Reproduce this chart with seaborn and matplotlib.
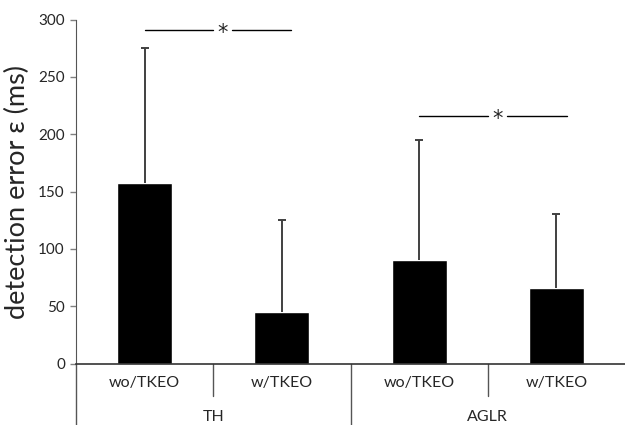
import numpy as np
import pandas as pd
import matplotlib
matplotlib.use("Agg")
import matplotlib.pyplot as plt
import seaborn as sns

# values
methods = ["TH", "TH", "AGLR", "AGLR"]
conditions = ["wo/TKEO", "w/TKEO", "wo/TKEO", "w/TKEO"]
mean_err = [157, 45, 90, 66]
sd_err = [118, 80, 105, 64]
yticks = [0, 50, 100, 150, 200, 250, 300]
sig_th = 291
sig_aglr = 216

df = pd.DataFrame({"method": methods, "condition": conditions,
                   "error": mean_err, "sd": sd_err})
df["key"] = df["method"] + " " + df["condition"]

sns.set_style("white")
plt.rcParams["font.family"] = ["Lato", "DejaVu Sans"]

fig = plt.figure(figsize=(6.25, 4.25), dpi=100)
ax = fig.add_axes([0.1216, 0.1447, 0.8784, 0.8094])

sns.barplot(data=df, x="key", y="error", order=list(df["key"]), color="black",
            saturation=1, width=0.4, errorbar=None, ax=ax)

# one-sided error bars (upwards), hide the lower caps
xpos = np.arange(len(df))
eb = ax.errorbar(xpos, df["error"], yerr=[np.zeros(len(df)), df["sd"]], fmt="none",
                 ecolor="#404040", elinewidth=1.4, capsize=3, capthick=1.4, zorder=1)
eb[1][0].set_visible(False)

ax.set_xlim(-0.5, 3.5)
ax.set_ylim(0, 300)
ax.set_yticks(yticks)
ax.tick_params(axis="y", labelsize=11, length=4, width=1, color="#808080",
               direction="out", left=True, pad=4)
ax.set_xticks(xpos)
ax.set_xticklabels(df["condition"], fontsize=11.5)
ax.tick_params(axis="x", length=0, pad=9)
ax.set_xlabel("")
ax.set_ylabel("detection error ε (ms)", fontsize=19.5, labelpad=6)

for s in ["top", "right"]:
    ax.spines[s].set_visible(False)
ax.spines["left"].set_color("#555555")
ax.spines["bottom"].set_color("#333333")
ax.spines["bottom"].set_linewidth(1.2)

# category dividers below the axis
trans = ax.get_xaxis_transform()
ax.plot([-0.5, -0.5], [0, -0.18], color="#555555", lw=1, transform=trans, clip_on=False)
ax.plot([1.5, 1.5], [0, -0.18], color="#555555", lw=1, transform=trans, clip_on=False)
for xd in [0.5, 2.5]:
    ax.plot([xd, xd], [0, -0.095], color="#555555", lw=1, transform=trans, clip_on=False)

for x, m in [(0.5, "TH"), (2.5, "AGLR")]:
    ax.text(x, -0.155, m, transform=trans, ha="center", va="center", fontsize=11.5)

# significance markers
for x0, x1, y in [(0, 1.07, sig_th), (2, 3.08, sig_aglr)]:
    xm = (x0 + x1) / 2 + 0.03
    ax.plot([x0, xm - 0.07], [y, y], color="black", lw=1, clip_on=False)
    ax.plot([xm + 0.07, x1], [y, y], color="black", lw=1, clip_on=False)
    ax.text(xm, y - 3, "*", ha="center", va="center", fontsize=15,
            family="DejaVu Sans")

fig.savefig("out.png", dpi=100)
